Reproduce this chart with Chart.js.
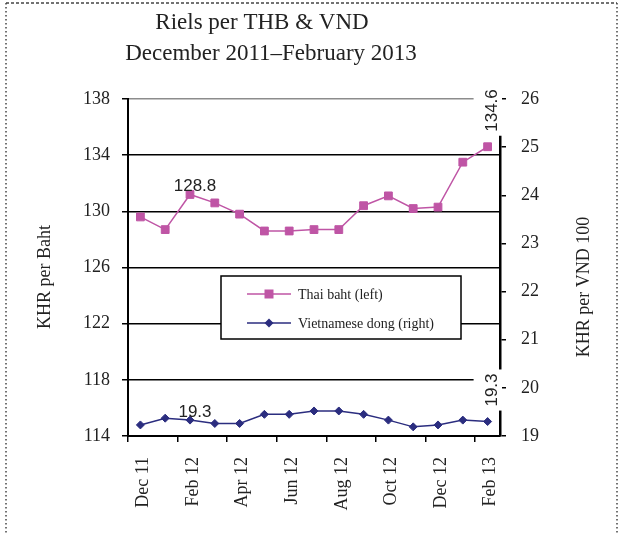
<!DOCTYPE html>
<html>
<head>
<meta charset="utf-8">
<script src="https://cdn.jsdelivr.net/npm/chart.js@4"></script>
<style>
  body { margin: 0; background: #fff; }
  #wrap { width: 621px; height: 534px; }
</style>
</head>
<body>
<div id="wrap"><canvas id="fx" width="621" height="534"></canvas></div>
<script>
// data //
const months = ['Dec 11', 'Jan 12', 'Feb 12', 'Mar 12', 'Apr 12', 'May 12', 'Jun 12', 'Jul 12',
  'Aug 12', 'Sep 12', 'Oct 12', 'Nov 12', 'Dec 12', 'Jan 13', 'Feb 13'];
const thb = [129.6, 128.7, 131.2, 130.6, 129.8, 128.6, 128.6, 128.7, 128.7, 130.4, 131.1, 130.2, 130.3, 133.5, 134.6];
const vnd = [19.23, 19.37, 19.33, 19.26, 19.26, 19.45, 19.45, 19.52, 19.52, 19.45, 19.33, 19.19, 19.23, 19.33, 19.30];
const leftTicks = [114, 118, 122, 126, 130, 134, 138];
const rightTicks = [19, 20, 21, 22, 23, 24, 25, 26];
// callouts as printed in the source: [index, text]
const thbNotes = [[2, '128.8'], [14, '134.6']];
const vndNotes = [[2, '19.3'], [14, '19.3']];

const pink = '#bf55a5';
const navy = '#2b2d7f';
const serif = "'Liberation Serif', 'Times New Roman', serif";
const sans = "'Liberation Sans', Arial, sans-serif";

// decorations //
const decor = {
  id: 'decor',
  afterDraw(chart) {
    const c = chart.ctx;
    const x = chart.scales.x, yl = chart.scales.y, yr = chart.scales.y1;
    const area = chart.chartArea;
    c.save();

    // titles
    c.fillStyle = '#222';
    c.font = '23px ' + serif;
    c.textAlign = 'center';
    c.textBaseline = 'alphabetic';
    c.fillText('Riels per THB & VND', 262, 29);
    c.fillText('December 2011\u2013February 2013', 271, 60);

    // axis titles
    c.font = '18px ' + serif;
    c.textBaseline = 'middle';
    c.save(); c.translate(45, 277); c.rotate(-Math.PI / 2); c.fillText('KHR per Baht', 0, 0); c.restore();
    c.save(); c.translate(584, 287); c.rotate(-Math.PI / 2); c.fillText('KHR per VND 100', 0, 0); c.restore();

    // value callouts
    c.font = '17px ' + sans;
    c.fillStyle = '#222';
    function note(i, txt, py) {
      const px = x.getPixelForValue(i);
      if (i === months.length - 1) {
        const w = c.measureText(txt).width;
        const bottom = py - 15;
        c.fillStyle = '#fff';
        c.fillRect(px - 14, bottom - w - 4, area.right + 2 - (px - 14), w + 8);
        c.fillStyle = '#222';
        c.save(); c.translate(px + 5, bottom); c.rotate(-Math.PI / 2);
        c.textAlign = 'left'; c.fillText(txt, 0, 0); c.restore();
      } else {
        c.textAlign = 'center';
        c.fillText(txt, px + 5, py - 8);
      }
    }
    thbNotes.forEach(n => note(n[0], n[1], yl.getPixelForValue(thb[n[0]])));
    vndNotes.forEach(n => note(n[0], n[1], yr.getPixelForValue(vnd[n[0]])));

    // legend box
    c.fillStyle = '#fff';
    c.fillRect(221, 276, 240, 63);
    c.strokeStyle = '#000';
    c.lineWidth = 1.5;
    c.strokeRect(221, 276, 240, 63);
    const rows = [[chart.data.datasets[0], 294], [chart.data.datasets[1], 323]];
    rows.forEach(([ds, ly]) => {
      c.strokeStyle = ds.borderColor;
      c.lineWidth = 1.5;
      c.beginPath(); c.moveTo(247, ly); c.lineTo(291, ly); c.stroke();
      c.fillStyle = ds.borderColor;
      c.beginPath();
      if (ds.pointStyle === 'rect') {
        c.rect(264.5, ly - 4.5, 9, 9);
      } else {
        c.moveTo(269, ly - 4.5); c.lineTo(273.5, ly); c.lineTo(269, ly + 4.5); c.lineTo(264.5, ly);
        c.closePath();
      }
      c.fill();
      c.fillStyle = '#222';
      c.font = '14px ' + serif;
      c.textAlign = 'left';
      c.textBaseline = 'middle';
      c.fillText(ds.label, 298, ly + 1);
    });

    // dotted frame
    c.strokeStyle = '#444';
    c.lineWidth = 1.5;
    c.setLineDash([3, 2]);
    c.beginPath(); c.moveTo(6, 3); c.lineTo(617, 3); c.stroke();
    c.setLineDash([1.5, 2.5]);
    c.beginPath(); c.moveTo(6, 3); c.lineTo(6, 534); c.stroke();
    c.beginPath(); c.moveTo(617, 3); c.lineTo(617, 534); c.stroke();
    c.restore();
  }
};

const ctx = document.getElementById('fx');
new Chart(ctx, {
  type: 'line',
  data: {
    labels: months,
    datasets: [{
      label: 'Thai baht (left)',
      data: thb,
      yAxisID: 'y',
      borderColor: pink,
      backgroundColor: pink,
      borderWidth: 1.5,
      pointStyle: 'rect',
      pointRadius: 5.5,
      pointBorderWidth: 1,
      tension: 0
    }, {
      label: 'Vietnamese dong (right)',
      data: vnd,
      yAxisID: 'y1',
      borderColor: navy,
      backgroundColor: navy,
      borderWidth: 1.5,
      pointStyle: 'rectRot',
      pointRadius: 4,
      pointBorderWidth: 1,
      tension: 0
    }]
  },
  options: {
    responsive: false,
    animation: false,
    layout: { padding: { top: 99, left: 0, right: 0, bottom: 0 } },
    plugins: { legend: { display: false }, tooltip: { enabled: false } },
    scales: {
      x: {
        offset: true,
        afterFit: s => { s.height = 98; },
        grid: {
          offset: true,
          drawOnChartArea: false,
          tickLength: 6,
          lineWidth: 1.5,
          color: g => (g.index % 2 === 0 ? '#000' : 'rgba(0,0,0,0)')
        },
        border: { color: '#000', width: 2 },
        ticks: {
          autoSkip: false,
          minRotation: 90,
          maxRotation: 90,
          padding: 15,
          labelOffset: 3,
          color: '#222',
          font: { family: serif, size: 18 },
          callback: (v, i) => (i % 2 === 0 ? months[i] : '')
        }
      },
      y: {
        position: 'left',
        min: leftTicks[0],
        max: leftTicks[leftTicks.length - 1],
        afterFit: s => { s.width = 128; },
        afterBuildTicks: s => { s.ticks = leftTicks.map(v => ({ value: v })); },
        grid: {
          tickLength: 6,
          lineWidth: 1.5,
          tickColor: '#000',
          color: g => (g.tick && g.tick.value === 138 ? '#8c8c8c' : '#000')
        },
        border: { color: '#000', width: 2 },
        ticks: { padding: 12, color: '#222', font: { family: serif, size: 18 } }
      },
      y1: {
        position: 'right',
        min: rightTicks[0],
        max: rightTicks[rightTicks.length - 1],
        afterFit: s => { s.width = 121; },
        afterBuildTicks: s => { s.ticks = rightTicks.map(v => ({ value: v })); },
        grid: { drawOnChartArea: false, tickLength: 6, lineWidth: 1.5, color: '#000' },
        border: { color: '#000', width: 2.5 },
        ticks: { padding: 15, color: '#222', font: { family: serif, size: 18 } }
      }
    }
  },
  plugins: [decor]
});
</script>
</body>
</html>
